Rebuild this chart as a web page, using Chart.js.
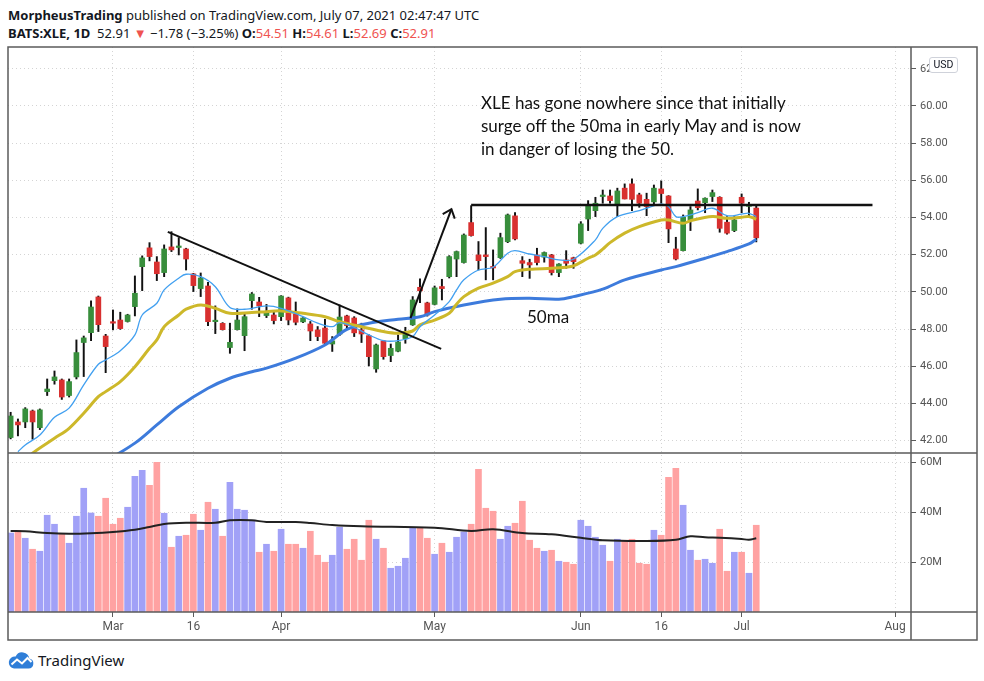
<!DOCTYPE html>
<html>
<head>
<meta charset="utf-8">
<title>BATS:XLE, 1D</title>
<script src="https://cdn.jsdelivr.net/npm/chart.js@4.4.0/dist/chart.umd.min.js"></script>
<style>
  body { margin: 0; background: #fff; width: 984px; height: 681px; position: relative; overflow: hidden;
         font-family: "Noto Sans", sans-serif; color: #131722; }
  .hdr { position: absolute; left: 8px; font-size: 13px; line-height: 18px; white-space: nowrap; }
  #h1 { top: 6px; }
  #h2 { top: 24px; }
  .red { color: #ef5350; }
  .tri { color: #ef5350; font-size: 13px; }
  #chartBox { position: absolute; left: 6px; top: 45px; width: 973px; height: 597px; }
  .note { position: absolute; font-family: Lato, sans-serif; font-size: 17px; line-height: 23px; color: #111; white-space: nowrap; }
  #usd { position: absolute; left: 929px; top: 57px; width: 27px; height: 14px; border: 1px solid #cfd2da; border-radius: 3px;
         background: #fff; font-family: Roboto, sans-serif; font-size: 10.5px; line-height: 14px; text-align: center; color: #131722; }
  #brand { position: absolute; left: 8px; top: 650px; height: 20px; display: flex; align-items: center; }
  #brand span { font-family: "Noto Sans", sans-serif; font-size: 15px; margin-left: 4px; color: #131722; }
</style>
</head>
<body>
<div class="hdr" id="h1"><b>MorpheusTrading</b> published on TradingView.com, July 07, 2021 02:47:47 UTC</div>
<div class="hdr" id="h2"><b>BATS:XLE, 1D</b>&nbsp; 52.91 <span class="tri">&#9660;</span> &minus;1.78 (&minus;3.25%) <b>O:</b><span class="red">54.51</span> <b>H:</b><span class="red">54.61</span> <b>L:</b><span class="red">52.69</span> <b>C:</b><span class="red">52.91</span></div>

<div id="chartBox"><canvas id="xleChart"></canvas></div>

<div class="note" style="left:481px; top:91px;">XLE has gone nowhere since that initially<br>surge off the 50ma in early May and is now<br>in danger of losing the 50.</div>
<div class="note" style="left:527px; top:305px;">50ma</div>
<div id="usd">USD</div>
<div id="brand">
  <svg width="26" height="18" viewBox="0 0 26 18"><path d="M6 17.5h14.5a5 5 0 0 0 .8-9.9A7.2 7.2 0 0 0 7.6 5.6 5.9 5.9 0 0 0 6 17.5z" fill="#2f7ed8"/><polyline points="3.5,13.5 9,8.5 14,12.5 19.5,7 23.5,11" fill="none" stroke="#fff" stroke-width="2"/></svg>
  <span>TradingView</span>
</div>

<script>
// bar index 0 = Mar 1 2021, first visible bar = Feb 8
const firstIdx = -14;

const opens = [
  42.17, 43.01, 43.01, 43.60, 42.70, 44.64, 45.23, 45.27, 44.43, 45.43, 47.28, 47.81, 49.73, 47.63,
  48.35, 48.49, 48.41, 49.21, 51.36, 52.37, 51.61, 51.04, 52.42, 52.39,
  52.31, 50.97, 50.18, 50.32, 48.40, 48.31, 47.01, 47.97, 47.65, 49.53,
  49.46, 48.73, 48.76, 48.67, 49.68, 48.82, 48.39, 48.28, 47.96, 48.06,
  47.20, 47.73, 48.71, 48.60, 47.96, 47.65, 45.86, 47.37, 46.58, 46.81,
  47.49, 48.23, 50.25, 49.41, 49.33, 50.29, 50.82, 51.77, 51.58, 53.73,
  51.99, 51.99, 51.36, 51.84, 52.70, 54.09, 51.68, 51.58, 51.99, 51.87,
  51.99, 51.04, 51.72, 51.84, 52.62, 53.92, 54.37, 55.13, 55.16, 54.68,
  55.58, 55.81, 55.22, 54.98, 54.84, 55.54, 55.16, 52.31, 52.22, 53.87,
  54.89, 54.80, 55.13, 55.09, 53.75, 53.30, 55.09, 54.60, 54.51
];
const highs = [
  43.53, 43.17, 43.78, 43.65, 43.71, 45.32, 45.75, 45.32, 45.32, 47.42, 47.63, 49.52, 49.78, 47.72,
  49.03, 48.91, 48.80, 50.86, 51.94, 52.65, 51.90, 52.53, 53.24, 52.92,
  52.35, 51.00, 51.02, 50.52, 49.25, 48.35, 48.32, 49.09, 48.82, 49.97,
  49.71, 49.33, 48.94, 49.80, 49.72, 49.46, 48.62, 48.41, 48.14, 48.53,
  47.60, 49.30, 48.75, 48.67, 48.32, 47.70, 47.20, 47.40, 47.20, 47.69,
  48.10, 49.75, 50.70, 49.45, 50.32, 50.68, 51.95, 52.20, 53.12, 54.64,
  52.71, 53.46, 52.26, 53.16, 54.19, 54.27, 51.90, 51.76, 52.35, 52.15,
  52.02, 51.52, 52.22, 51.87, 53.78, 54.91, 55.09, 55.48, 55.48, 55.58,
  55.81, 56.08, 55.31, 55.31, 55.75, 55.97, 55.18, 52.94, 54.14, 54.59,
  55.54, 55.06, 55.48, 55.12, 54.05, 54.05, 55.27, 54.82, 54.61
];
const lows = [
  42.10, 42.26, 42.70, 42.08, 42.60, 44.43, 45.04, 44.22, 44.35, 45.32, 45.45, 47.38, 47.87, 45.66,
  47.96, 47.99, 48.38, 48.71, 50.07, 51.67, 50.61, 50.82, 52.17, 51.99,
  51.18, 50.02, 49.75, 48.19, 47.76, 47.95, 46.70, 47.95, 46.84, 49.07,
  48.67, 48.62, 48.28, 48.46, 48.23, 48.23, 48.35, 47.38, 47.38, 47.15,
  46.80, 47.65, 47.99, 47.60, 47.28, 46.02, 45.68, 46.38, 46.25, 46.78,
  47.24, 48.20, 49.42, 48.70, 49.30, 49.57, 50.75, 50.82, 51.55, 53.00,
  51.18, 50.65, 50.65, 51.80, 52.65, 52.80, 50.82, 50.73, 51.45, 51.60,
  50.91, 50.82, 51.27, 51.27, 52.58, 53.30, 54.05, 54.77, 54.77, 54.05,
  55.00, 54.37, 54.55, 54.10, 54.71, 54.77, 52.65, 51.72, 52.20, 53.30,
  54.41, 54.26, 54.86, 53.21, 53.10, 53.24, 54.26, 54.05, 52.69
];
const closes = [
  43.33, 42.85, 43.71, 43.01, 43.66, 44.78, 45.43, 44.35, 45.18, 46.74, 47.53, 49.19, 48.24, 47.06,
  48.32, 48.03, 48.76, 49.93, 51.83, 51.90, 50.98, 52.31, 52.26, 52.42,
  51.77, 50.34, 50.75, 48.40, 48.44, 47.97, 47.29, 48.49, 48.67, 49.89,
  49.25, 48.89, 48.46, 49.78, 48.49, 48.37, 48.60, 47.90, 47.60, 47.24,
  47.37, 48.65, 48.19, 47.80, 47.74, 46.52, 47.15, 46.52, 46.97, 47.31,
  47.87, 49.57, 50.06, 48.76, 50.22, 50.18, 51.90, 52.17, 53.06, 53.03,
  51.68, 51.90, 51.29, 52.92, 54.14, 52.85, 51.54, 51.45, 51.58, 52.12,
  51.04, 51.50, 51.54, 51.63, 53.66, 54.62, 54.77, 55.18, 54.91, 55.43,
  55.00, 54.98, 54.77, 54.59, 55.58, 55.29, 53.39, 51.77, 54.02, 54.41,
  54.53, 55.04, 55.34, 53.42, 53.16, 53.87, 54.77, 54.69, 52.91
];
// volume in millions
const volumes = [
  31.6, 32.5, 29.5, 25.1, 24.3, 38.7, 35.1, 31.3, 27.5, 38.3, 49.5, 39.6, 38.3, 45.5,
  35.1, 37.5, 41.9, 54.3, 56.7, 50.7, 59.9, 39.5, 25.9, 30.3,
  30.7, 39.1, 32.7, 43.9, 41.1, 30.3, 51.9, 41.1, 40.7, 36.7,
  23.9, 27.1, 24.3, 33.1, 27.1, 27.1, 25.5, 32.3, 22.7, 19.9,
  22.7, 33.9, 25.1, 29.1, 20.7, 36.7, 29.1, 25.5, 17.5, 18.3,
  21.5, 33.5, 33.5, 29.5, 23.1, 27.5, 23.9, 29.9, 32.0, 35.1,
  57.1, 41.5, 40.3, 29.1, 34.3, 35.5, 44.3, 28.7, 25.5, 24.3,
  24.7, 20.3, 19.9, 19.1, 36.7, 34.3, 29.9, 26.7, 20.3, 29.1,
  28.7, 29.1, 19.5, 19.1, 32.7, 30.7, 53.9, 57.5, 42.7, 24.7,
  20.7, 21.1, 19.5, 33.1, 16.3, 23.9, 23.9, 15.5, 34.7
];

// moving averages (bar index, value)
const fastMaIdx = [-13, -12, -10, -8, -6, -4, -2, -1, 1, 3, 4, 6, 7, 9, 10, 12, 14, 16, 18, 21, 23, 26, 28, 30, 31, 33, 35, 37, 39, 41, 42, 44, 46, 47, 48, 50, 52, 54, 55, 57, 59, 61, 63, 66, 67, 69, 72, 73, 75, 76, 77, 78, 80, 82, 84, 86, 87, 88];
const fastMa = [41.41, 41.77, 42.31, 43.26, 43.75, 45.0, 46.11, 46.34, 46.84, 47.69, 48.76, 49.39, 50.11, 50.74, 50.95, 50.82, 50.28, 49.16, 49.07, 49.25, 49.12, 48.67, 48.32, 48.13, 48.35, 48.10, 47.69, 47.38, 47.38, 47.60, 48.13, 48.76, 49.48, 50.11, 50.65, 51.18, 51.33, 52.08, 52.22, 52.04, 51.90, 51.72, 51.76, 52.80, 53.42, 54.05, 54.37, 54.50, 54.72, 54.59, 54.05, 54.05, 54.26, 54.50, 54.10, 54.18, 54.23, 54.05];
const midMaIdx = [-12, -11, -8, -6, -4, -2, -1, 1, 3, 5, 6, 7, 9, 10, 12, 14, 16, 19, 21, 23, 26, 29, 31, 34, 37, 39, 41, 42, 44, 46, 47, 48, 50, 52, 54, 55, 57, 60, 62, 63, 65, 66, 67, 68, 70, 72, 75, 76, 78, 79, 82, 84, 86, 87, 88];
const midMa = [40.9, 41.33, 42.13, 42.67, 43.48, 44.37, 44.64, 45.18, 45.98, 46.97, 47.42, 48.13, 48.76, 49.07, 49.30, 49.12, 48.85, 48.89, 48.94, 48.98, 48.85, 48.67, 48.40, 48.13, 47.87, 47.78, 47.90, 48.23, 48.49, 48.85, 49.34, 49.75, 50.20, 50.47, 50.82, 51.09, 51.22, 51.27, 51.33, 51.40, 51.81, 51.99, 52.30, 52.65, 53.16, 53.51, 53.87, 53.87, 53.69, 53.83, 54.05, 53.96, 54.02, 54.05, 53.91];
const ma50Idx = [-1, 3, 6, 9, 13, 16, 19, 21, 25, 29, 32, 35, 39, 42, 44, 48, 53, 57, 61, 63, 67, 70, 75, 77, 81, 84, 87, 88];
const ma50 = [40.90, 41.87, 42.85, 43.83, 44.82, 45.36, 45.71, 45.90, 46.44, 47.15, 47.99, 48.32, 48.53, 48.67, 48.94, 49.30, 49.61, 49.66, 49.61, 49.75, 50.15, 50.65, 51.18, 51.36, 51.81, 52.17, 52.58, 52.83];
const volMaIdx = [-14, -12, -9, -6, -3, 0, 3, 5, 7, 10, 14, 16, 19, 21, 25, 27, 30, 34, 44, 49, 52, 56, 60, 64, 67, 73, 77, 79, 81, 83, 86, 87, 88];
const volMa = [32.4, 32.3, 31.6, 31.3, 31.5, 32.0, 32.9, 34.0, 35.2, 35.7, 35.7, 36.7, 36.7, 36.0, 36.0, 35.6, 34.8, 34.3, 33.7, 32.4, 33.1, 31.6, 31.1, 29.7, 28.7, 28.4, 28.9, 30.3, 29.9, 29.7, 29.2, 28.9, 29.5];

// drawn lines
const trendIdx = [7.5, 44.9];
const trendVal = [53.23, 46.94];
const resistIdx = [49, 103.9];
const resistVal = [54.68, 54.68];
const arrowIdx = [40.7, 46.3];
const arrowVal = [48.59, 54.45];

// axes
const priceTicks = [42, 44, 46, 48, 50, 52, 54, 56, 58, 60, 62];
const volTicks = [20, 40, 60];
const timeTickIdx = [0, 11, 23, 44, 64, 75, 86, 107];
const timeTickText = ['Mar', '16', 'Apr', 'May', 'Jun', '16', 'Jul', 'Aug'];
const xMin = -14.36, xMax = 109.17;
const priceMin = 41.34, priceMax = 63.17;
const volMax = 63.6;

const barIdx = opens.map((o, k) => firstIdx + k);
const isUp = opens.map((o, k) => closes[k] >= o);
const candleColors = isUp.map(u => u ? '#388e3c' : '#d8302f');
const volColors = isUp.map(u => u ? '#a1a1f7' : '#ffa2a2');
const pts = (xs, ys) => xs.map((x, k) => ({ x: x, y: ys[k] }));

const arrowHead = {
  id: 'arrowHead',
  afterDatasetsDraw(chart) {
    const ds = chart.data.datasets.findIndex(d => d.label === 'arrow');
    const p = chart.getDatasetMeta(ds).data;
    const a = p[p.length - 2], b = p[p.length - 1];
    const ang = Math.atan2(a.y - b.y, a.x - b.x);
    const ctx = chart.ctx;
    ctx.save();
    ctx.strokeStyle = '#111';
    ctx.lineWidth = 2;
    ctx.beginPath();
    ctx.moveTo(b.x + 10 * Math.cos(ang + 0.7), b.y + 10 * Math.sin(ang + 0.7));
    ctx.lineTo(b.x, b.y);
    ctx.lineTo(b.x + 10 * Math.cos(ang - 0.7), b.y + 10 * Math.sin(ang - 0.7));
    ctx.stroke();
    ctx.restore();
  }
};

const frame = {
  id: 'frame',
  afterDraw(chart) {
    const ctx = chart.ctx;
    const area = chart.chartArea;
    const y = chart.scales.y, x = chart.scales.x;
    const L = area.left, T = area.top, R = y.right, B = x.bottom;
    ctx.save();
    ctx.strokeStyle = '#5b5b5b';
    ctx.lineWidth = 1.5;
    ctx.strokeRect(L, T, R - L, B - T);
    ctx.beginPath();
    ctx.moveTo(area.right, T); ctx.lineTo(area.right, B);
    ctx.moveTo(L, y.bottom); ctx.lineTo(R, y.bottom);
    ctx.moveTo(L, area.bottom); ctx.lineTo(R, area.bottom);
    ctx.stroke();
    ctx.restore();
  }
};

// keep the panes exactly where the reference has them
const noPad = s => { s.paddingTop = 0; s.paddingBottom = 0; s.paddingLeft = 0; s.paddingRight = 0; };

const gridOpts = { color: '#d4d4d4', tickColor: '#5b5b5b', tickLength: 5, tickBorderDash: [], offset: false };
const tickFont = { family: 'Roboto', size: 11 };

new Chart(document.getElementById('xleChart'), {
  type: 'bar',
  data: {
    datasets: [
      { type: 'line', label: 'arrow', data: pts(arrowIdx, arrowVal), borderColor: '#111', borderWidth: 2, pointRadius: 0, yAxisID: 'y', order: 0 },
      { type: 'line', label: 'trend', data: pts(trendIdx, trendVal), borderColor: '#111', borderWidth: 2, pointRadius: 0, yAxisID: 'y', order: 0 },
      { type: 'line', label: 'resistance', data: pts(resistIdx, resistVal), borderColor: '#111', borderWidth: 2.5, pointRadius: 0, yAxisID: 'y', order: 0 },
      { type: 'line', label: 'fast', data: pts(fastMaIdx, fastMa), borderColor: '#42a0f0', borderWidth: 1.3, pointRadius: 0, tension: 0.35, yAxisID: 'y', order: 1 },
      { type: 'line', label: 'mid', data: pts(midMaIdx, midMa), borderColor: '#cdb82a', borderWidth: 3, pointRadius: 0, tension: 0.35, yAxisID: 'y', order: 2 },
      { type: 'line', label: '50ma', data: pts(ma50Idx, ma50), borderColor: '#3d7bdc', borderWidth: 3, pointRadius: 0, tension: 0.35, yAxisID: 'y', order: 3 },
      { label: 'body', data: barIdx.map((x, k) => ({ x: x, y: [opens[k], closes[k]] })), backgroundColor: candleColors,
        barThickness: 5, grouped: false, minBarLength: 1.5, yAxisID: 'y', order: 5 },
      { label: 'wick', data: barIdx.map((x, k) => ({ x: x, y: [lows[k], highs[k]] })), backgroundColor: '#111',
        barThickness: 1.3, grouped: false, yAxisID: 'y', order: 6 },
      { type: 'line', label: 'volMa', data: pts(volMaIdx, volMa), borderColor: '#222', borderWidth: 2, pointRadius: 0, tension: 0.35, yAxisID: 'vol', order: 4 },
      { label: 'volume', data: barIdx.map((x, k) => ({ x: x, y: volumes[k] })), backgroundColor: volColors,
        barThickness: 6, grouped: false, yAxisID: 'vol', order: 7 }
    ]
  },
  options: {
    responsive: true,
    maintainAspectRatio: false,
    animation: false,
    layout: { padding: 2 },
    plugins: { legend: { display: false }, tooltip: { enabled: false } },
    scales: {
      x: {
        type: 'linear', position: 'bottom', min: xMin, max: xMax, offset: false,
        grid: gridOpts, border: { display: false, dash: [1, 3] },
        afterBuildTicks: s => { s.ticks = timeTickIdx.map(v => ({ value: v })); },
        afterFit: s => { s.height = 28; noPad(s); },
        ticks: { autoSkip: false, maxRotation: 0, padding: 3, color: '#555', font: { family: 'Roboto', size: 12 },
                 callback: v => timeTickText[timeTickIdx.indexOf(v)] }
      },
      y: {
        type: 'linear', position: 'right', stack: 'panes', stackWeight: 406, min: priceMin, max: priceMax,
        grid: gridOpts, border: { display: false, dash: [1, 3] },
        afterBuildTicks: s => { s.ticks = priceTicks.map(v => ({ value: v })); },
        afterFit: s => { s.width = 66; noPad(s); },
        ticks: { padding: 4, color: '#555', font: tickFont, callback: v => v.toFixed(2) }
      },
      vol: {
        type: 'linear', position: 'right', stack: 'panes', stackWeight: 159, min: 0, max: volMax,
        grid: gridOpts, border: { display: false, dash: [1, 3] },
        afterBuildTicks: s => { s.ticks = volTicks.map(v => ({ value: v })); },
        afterFit: s => { s.width = 66; noPad(s); },
        ticks: { padding: 4, color: '#555', font: tickFont, callback: v => v + 'M' }
      }
    }
  },
  plugins: [arrowHead, frame]
});
</script>
</body>
</html>
